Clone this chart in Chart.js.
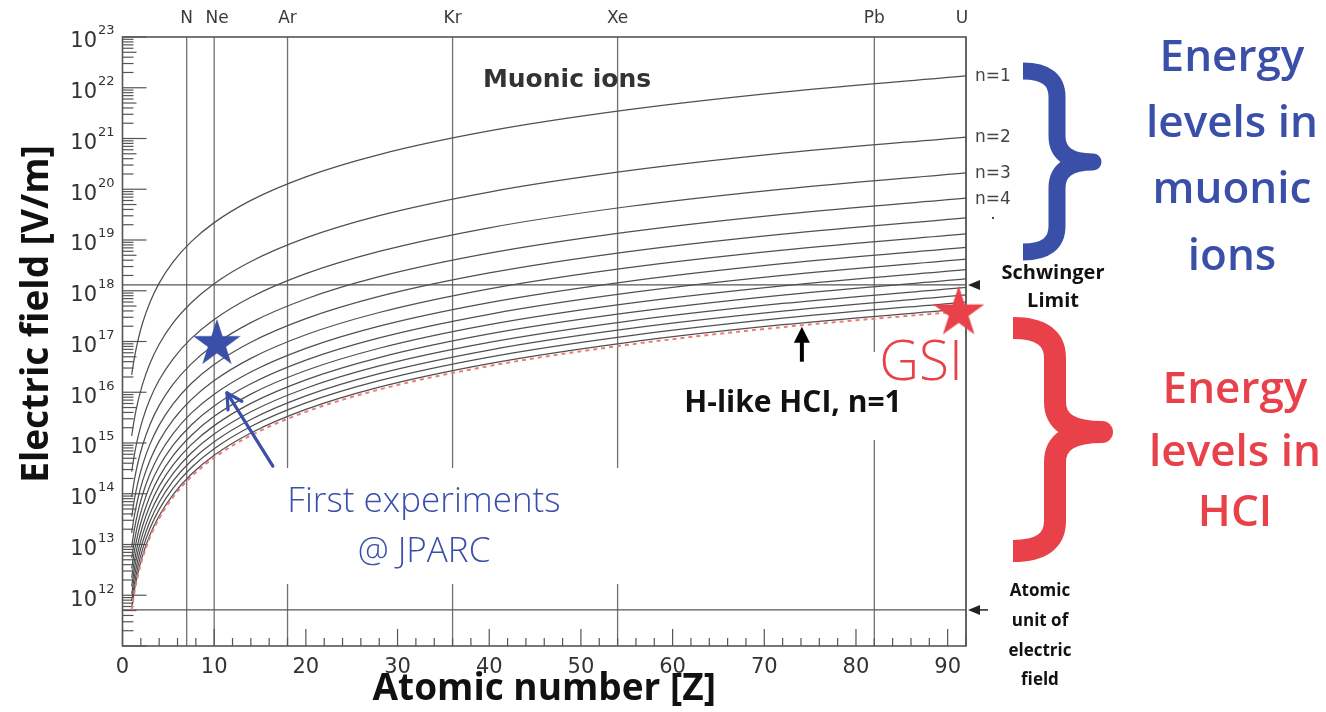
<!DOCTYPE html>
<html><head><meta charset="utf-8">
<script src="https://cdn.jsdelivr.net/npm/chart.js@4.4.1/dist/chart.umd.min.js"></script>
<style>html,body{margin:0;padding:0;background:#fff;overflow:hidden}canvas{display:block}</style>
</head><body>
<canvas id="c" width="1326" height="712"></canvas>
<script>
// ---------- data ----------
const zValues = [1, 1.3, 1.7, 2.2, 3, 4, 5.5, 7.5, 10, 14, 20, 28, 40, 55, 72, 92];
const n1  = [2.2e16, 4.83e16, 1.08e17, 2.34e17, 5.94e17, 1.41e18, 3.66e18, 9.28e18, 2.2e19, 6.04e19, 1.76e20, 4.83e20, 1.41e21, 3.66e21, 8.21e21, 1.71e22];
const n2  = [1.38e15, 3.02e15, 6.76e15, 1.46e16, 3.71e16, 8.8e16, 2.29e17, 5.8e17, 1.38e18, 3.77e18, 1.1e19, 3.02e19, 8.8e19, 2.29e20, 5.13e20, 1.07e21];
const n3  = [2.72e14, 5.97e14, 1.33e15, 2.89e15, 7.33e15, 1.74e16, 4.52e16, 1.15e17, 2.72e17, 7.45e17, 2.17e18, 5.96e18, 1.74e19, 4.52e19, 1.01e20, 2.11e20];
const n4  = [8.59e13, 1.89e14, 4.22e14, 9.15e14, 2.32e15, 5.5e15, 1.43e16, 3.63e16, 8.59e16, 2.36e17, 6.88e17, 1.89e18, 5.5e18, 1.43e19, 3.21e19, 6.69e19];
const n5  = [3.52e13, 7.73e13, 1.73e14, 3.75e14, 9.5e14, 2.25e15, 5.86e15, 1.49e16, 3.52e16, 9.66e16, 2.82e17, 7.73e17, 2.25e18, 5.86e18, 1.31e19, 2.74e19];
const n6  = [1.7e13, 3.73e13, 8.34e13, 1.81e14, 4.58e14, 1.09e15, 2.83e15, 7.16e15, 1.7e16, 4.66e16, 1.36e17, 3.73e17, 1.09e18, 2.83e18, 6.34e18, 1.32e19];
const n7  = [9.16e12, 2.01e13, 4.5e13, 9.76e13, 2.47e14, 5.86e14, 1.52e15, 3.87e15, 9.16e15, 2.51e16, 7.33e16, 2.01e17, 5.86e17, 1.52e18, 3.42e18, 7.14e18];
const n8  = [5.37e12, 1.18e13, 2.64e13, 5.72e13, 1.45e14, 3.44e14, 8.94e14, 2.27e15, 5.37e15, 1.47e16, 4.3e16, 1.18e17, 3.44e17, 8.94e17, 2.0e18, 4.18e18];
const n9  = [3.35e12, 7.37e12, 1.65e13, 3.57e13, 9.05e13, 2.15e14, 5.58e14, 1.41e15, 3.35e15, 9.2e15, 2.68e16, 7.36e16, 2.15e17, 5.58e17, 1.25e18, 2.61e18];
const n10 = [2.2e12, 4.83e12, 1.08e13, 2.34e13, 5.94e13, 1.41e14, 3.66e14, 9.28e14, 2.2e15, 6.04e15, 1.76e16, 4.83e16, 1.41e17, 3.66e17, 8.21e17, 1.71e18];
const n11 = [1.5e12, 3.3e12, 7.38e12, 1.6e13, 4.06e13, 9.62e13, 2.5e14, 6.34e14, 1.5e15, 4.12e15, 1.2e16, 3.3e16, 9.62e16, 2.5e17, 5.61e17, 1.17e18];
const n12 = [1.06e12, 2.33e12, 5.21e12, 1.13e13, 2.86e13, 6.79e13, 1.77e14, 4.48e14, 1.06e15, 2.91e15, 8.49e15, 2.33e16, 6.79e16, 1.77e17, 3.96e17, 8.26e17];
const n13 = [7.7e11, 1.69e12, 3.78e12, 8.2e12, 2.08e13, 4.93e13, 1.28e14, 3.25e14, 7.7e14, 2.11e15, 6.16e15, 1.69e16, 4.93e16, 1.28e17, 2.88e17, 6.0e17];
const n14 = [5.73e11, 1.26e12, 2.81e12, 6.1e12, 1.55e13, 3.67e13, 9.53e13, 2.42e14, 5.73e14, 1.57e15, 4.58e15, 1.26e16, 3.67e16, 9.53e16, 2.14e17, 4.46e17];
const hLikeN1 = [5.14e11, 1.13e12, 2.53e12, 5.47e12, 1.39e13, 3.29e13, 8.55e13, 2.17e14, 5.14e14, 1.41e15, 4.11e15, 1.13e16, 3.29e16, 8.55e16, 1.92e17, 4.0e17];
const muonicSeries = [n1, n2, n3, n4, n5, n6, n7, n8, n9, n10, n11, n12, n13, n14];
const levelLabels = ['n=1', 'n=2', 'n=3', 'n=4'];

const elementZ = [7, 10, 18, 36, 54, 82, 92];
const elementNames = ['N', 'Ne', 'Ar', 'Kr', 'Xe', 'Pb', 'U'];
const schwingerLimit = 1.3e18;
const atomicUnitField = 5.14e11;
const jparcPoint = [10.3, 9.0e16];
const gsiPoint = [91.2, 3.7e17];
const jparcArrow = [[16.4, 3.5e14], [11.4, 9.7e15]];
const hciArrow = [[74.1, 4.0e16], [74.1, 1.95e17]];

const xTickValues = [0, 10, 20, 30, 40, 50, 60, 70, 80, 90];
const xMinorTicks = [2,4,6,8,12,14,16,18,22,24,26,28,32,34,36,38,42,44,46,48,52,54,56,58,62,64,66,68,72,74,76,78,82,84,86,88,92];
const yTickExponents = [12, 13, 14, 15, 16, 17, 18, 19, 20, 21, 22, 23];
const yMajorTicks = [1e11,1e12,1e13,1e14,1e15,1e16,1e17,1e18,1e19,1e20,1e21,1e22,1e23];
const yMinorMultipliers = [2, 3, 4, 5, 6, 7, 8, 9];

// ---------- helpers ----------
const BLUE = '#3a4fa8', RED = '#e8414a';
function starCanvas(R, color) {
  const c = document.createElement('canvas');
  const s = Math.ceil(2 * R + 4);
  c.width = s; c.height = s;
  const g = c.getContext('2d');
  g.fillStyle = color; g.beginPath();
  for (let i = 0; i < 10; i++) {
    const r = i % 2 ? R * 0.382 : R;
    const a = -Math.PI / 2 + i * Math.PI / 5;
    const px = s / 2 + r * Math.cos(a), py = s / 2 + r * Math.sin(a);
    i ? g.lineTo(px, py) : g.moveTo(px, py);
  }
  g.closePath(); g.fill();
  return c;
}
function line(ctx, x1, y1, x2, y2) { ctx.beginPath(); ctx.moveTo(x1, y1); ctx.lineTo(x2, y2); ctx.stroke(); }
function brace(ctx, xl, yt, yb, xs, xtip, ym, r, t, color) {
  ctx.save();
  ctx.strokeStyle = color; ctx.lineWidth = t; ctx.lineCap = 'butt'; ctx.lineJoin = 'round';
  ctx.beginPath();
  ctx.moveTo(xl, yt);
  ctx.quadraticCurveTo(xs, yt, xs, yt + r);
  ctx.lineTo(xs, ym - r);
  ctx.quadraticCurveTo(xs, ym, xtip, ym);
  ctx.quadraticCurveTo(xs, ym, xs, ym + r);
  ctx.lineTo(xs, yb - r);
  ctx.quadraticCurveTo(xs, yb, xl, yb);
  ctx.stroke();
  ctx.restore();
}
function texts(ctx, lines, x, baselines, font, color) {
  ctx.save(); ctx.font = font; ctx.fillStyle = color; ctx.textAlign = 'center'; ctx.textBaseline = 'alphabetic';
  lines.forEach((t, i) => ctx.fillText(t, x, baselines[i]));
  ctx.restore();
}

const deco = {
  id: 'deco',
  beforeDraw(chart) {
    const ctx = chart.ctx; ctx.save(); ctx.fillStyle = '#fff'; ctx.fillRect(0, 0, chart.width, chart.height); ctx.restore();
  },
  beforeDatasetsDraw(chart) {
    const { ctx, chartArea: a, scales: { x, y } } = chart;
    ctx.save();
    ctx.strokeStyle = '#707070'; ctx.lineWidth = 1.3;
    elementZ.forEach(z => { const px = x.getPixelForValue(z); line(ctx, px, a.top, px, a.bottom); });
    ctx.strokeStyle = '#555'; ctx.lineWidth = 1.2;
    [schwingerLimit, atomicUnitField].forEach(v => { const py = y.getPixelForValue(v); line(ctx, a.left, py, a.right, py); });
    ctx.fillStyle = '#fff';
    ctx.fillRect(265, 468, 358, 116);
    ctx.fillRect(660, 352, 303, 88);
    ctx.strokeStyle = '#555'; ctx.lineWidth = 1.2;
    yMajorTicks.forEach(v => { const py = y.getPixelForValue(v); line(ctx, a.left, py, a.left + 24, py); });
    yMajorTicks.slice(0, -1).forEach(v => yMinorMultipliers.forEach(m => {
      const py = y.getPixelForValue(v * m); line(ctx, a.left, py, a.left + (m === 5 ? 14 : 11), py);
    }));
    xTickValues.forEach(v => { const px = x.getPixelForValue(v); line(ctx, px, a.bottom, px, a.bottom - 17); });
    xMinorTicks.forEach(v => { const px = x.getPixelForValue(v); line(ctx, px, a.bottom, px, a.bottom - 8); });
    ctx.strokeStyle = '#555'; ctx.lineWidth = 1.6;
    ctx.strokeRect(a.left, a.top, a.right - a.left, a.bottom - a.top);
    ctx.restore();
  },
  afterDatasetsDraw(chart) {
    const { ctx, chartArea: a, scales: { x, y } } = chart;
    ctx.save();
    ctx.fillStyle = '#333'; ctx.textBaseline = 'middle';
    yTickExponents.forEach(k => {
      const py = y.getPixelForValue(yMajorTicks[k - 11]);
      ctx.font = '21px "DejaVu Sans"'; ctx.textAlign = 'right'; ctx.fillText('10', 97, py + 5);
      ctx.font = '13px "DejaVu Sans"'; ctx.textAlign = 'left'; ctx.fillText(String(k), 98, py - 6);
    });
    ctx.font = '17px "DejaVu Sans"'; ctx.textAlign = 'center'; ctx.fillStyle = '#3a3a3a';
    elementZ.forEach((z, i) => ctx.fillText(elementNames[i], x.getPixelForValue(z) + (z === 92 ? -4 : z === 10 ? 3 : 0), 19));
    ctx.font = '17px "DejaVu Sans"'; ctx.textAlign = 'left'; ctx.fillStyle = '#444';
    levelLabels.forEach((t, i) => {
      const s = muonicSeries[i]; ctx.fillText(t, a.right + 9, y.getPixelForValue(s[s.length - 1]) + 1);
    });
    ctx.fillRect(992, 217, 2, 2);
    ctx.fillStyle = '#222'; ctx.strokeStyle = '#222'; ctx.lineWidth = 1.5;
    [schwingerLimit, atomicUnitField].forEach((v, i) => {
      const py = y.getPixelForValue(v);
      ctx.beginPath(); ctx.moveTo(a.right + 2, py); ctx.lineTo(a.right + 14, py - 5); ctx.lineTo(a.right + 14, py + 5); ctx.closePath(); ctx.fill();
      if (i === 1) line(ctx, a.right + 10, py, a.right + 22, py);
    });
    ctx.save();
    ctx.translate(48, 314); ctx.rotate(-Math.PI / 2);
    ctx.font = 'bold 37px "Open Sans"'; ctx.fillStyle = '#111'; ctx.textAlign = 'center'; ctx.textBaseline = 'alphabetic';
    ctx.fillText('Electric field [V/m]', 0, 0);
    ctx.restore();
    texts(ctx, ['Muonic ions'], 567, [87], 'bold 25px "DejaVu Sans"', '#333');
    texts(ctx, ['GSI'], 921, [380], '300 55px "Open Sans"', RED);
    texts(ctx, ['H-like HCI, n=1'], 793, [412], 'bold 30px "Open Sans"', '#111');
    texts(ctx, ['First experiments', '@ JPARC'], 424, [512, 562], '300 35px "Open Sans"', BLUE);
    {
      const px = x.getPixelForValue(hciArrow[0][0]);
      const y0 = y.getPixelForValue(hciArrow[0][1]), y1 = y.getPixelForValue(hciArrow[1][1]);
      ctx.strokeStyle = '#000'; ctx.fillStyle = '#000'; ctx.lineWidth = 4;
      line(ctx, px, y0, px, y1 + 12);
      ctx.beginPath(); ctx.moveTo(px, y1); ctx.lineTo(px - 8, y1 + 16); ctx.lineTo(px + 8, y1 + 16); ctx.closePath(); ctx.fill();
    }
    {
      const x0 = x.getPixelForValue(jparcArrow[0][0]), y0 = y.getPixelForValue(jparcArrow[0][1]);
      const x1 = x.getPixelForValue(jparcArrow[1][0]), y1 = y.getPixelForValue(jparcArrow[1][1]);
      ctx.strokeStyle = BLUE; ctx.lineWidth = 3.2; ctx.lineCap = 'round';
      line(ctx, x0, y0, x1, y1);
      const ang = Math.atan2(y0 - y1, x0 - x1);
      [0.5, -0.5].forEach(d => line(ctx, x1, y1, x1 + 17 * Math.cos(ang + d), y1 + 17 * Math.sin(ang + d)));
    }
    brace(ctx, 1023, 71, 252, 1057, 1093, 162, 26, 17, BLUE);
    brace(ctx, 1013, 328, 551, 1055, 1102, 432, 30, 22, RED);
    texts(ctx, ['Energy', 'levels in', 'muonic', 'ions'], 1232, [71, 137, 203, 270], '600 44px "Open Sans"', BLUE);
    texts(ctx, ['Energy', 'levels in', 'HCI'], 1235, [403, 466, 526], '600 44px "Open Sans"', RED);
    texts(ctx, ['Schwinger', 'Limit'], 1053, [279, 307], 'bold 20px "Open Sans"', '#111');
    texts(ctx, ['Atomic', 'unit of', 'electric', 'field'], 1040, [596, 626, 656, 685], 'bold 17px "Open Sans"', '#111');
    ctx.restore();
  }
};

const toPts = arr => arr.map((v, i) => ({ x: zValues[i], y: v }));
const datasets = [
  { data: [{ x: jparcPoint[0], y: jparcPoint[1] }], showLine: false, pointStyle: starCanvas(25, BLUE), pointRadius: 20, clip: false },
  { data: [{ x: gsiPoint[0], y: gsiPoint[1] }], showLine: false, pointStyle: starCanvas(27, RED), pointRadius: 20, clip: false },
  { data: toPts(hLikeN1), borderColor: '#ee7b7b', borderWidth: 2, borderDash: [4, 4], pointRadius: 0, cubicInterpolationMode: 'monotone' },
  ...muonicSeries.map(s => ({ data: toPts(s), borderColor: '#505050', borderWidth: 1.25, pointRadius: 0, cubicInterpolationMode: 'monotone' }))
];

new Chart(document.getElementById('c'), {
  type: 'line',
  data: { datasets },
  options: {
    responsive: false, animation: false, devicePixelRatio: 1,
    layout: { padding: { top: 37, right: 360, left: 0, bottom: 0 } },
    plugins: { legend: { display: false }, tooltip: { enabled: false } },
    scales: {
      x: {
        type: 'linear', min: 0, max: 92,
        grid: { display: false, drawTicks: false }, border: { display: false },
        afterBuildTicks: s => { s.ticks = xTickValues.map(v => ({ value: v })); },
        afterFit: s => { s.height = 66; },
        ticks: { font: { family: 'DejaVu Sans', size: 21 }, color: '#333', padding: 9, maxRotation: 0, autoSkip: false },
        title: { display: true, text: 'Atomic number [Z]', font: { family: 'Open Sans', size: 37, weight: 'bold' }, color: '#111', padding: { top: 0, bottom: 0 } }
      },
      y: {
        type: 'logarithmic', min: 1e11, max: 1e23,
        grid: { display: false, drawTicks: false }, border: { display: false },
        afterBuildTicks: s => { s.ticks = yMajorTicks.map(v => ({ value: v })); },
        afterFit: s => { s.width = 122.5; },
        ticks: { display: false }
      }
    }
  },
  plugins: [deco]
});
</script>
</body></html>
